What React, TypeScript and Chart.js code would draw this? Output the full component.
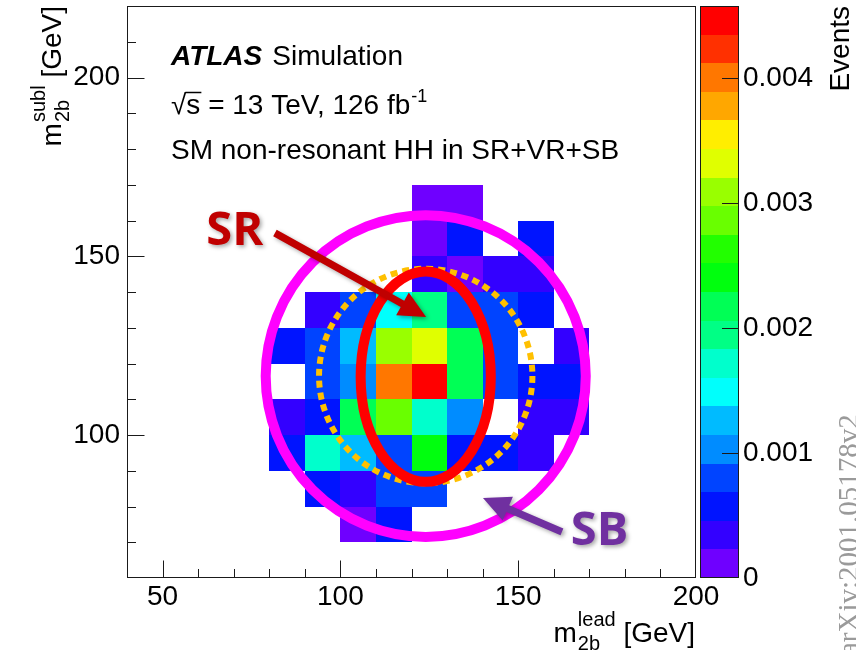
import React, { useEffect, useRef } from 'react';
import { Chart, registerables } from 'chart.js';

Chart.register(...registerables);

// ---------------- data ----------------
const X_RANGE = [40, 200];
const Y_RANGE = [60, 220];
const X_TICKS = [50, 100, 150, 200];
const Y_TICKS = [100, 150, 200];
const MINOR_STEP = 10;
const Z_RANGE = [0, 0.00458];
const Z_TICKS = [0, 0.001, 0.002, 0.003, 0.004];
const Z_CONTOURS = 20;
const BIN_WIDTH = 10;

// lower edges of the bins (GeV)
const X_BIN_LOW = [80, 90, 100, 110, 120, 130, 140, 150, 160];
const Y_BIN_LOW = [160, 150, 140, 130, 120, 110, 100, 90, 80, 70];

// events per bin, one array per m2b(subl) row, columns follow X_BIN_LOW
const ROW_160 = [0, 0, 0, 0, 0.0001, 0.0001, 0, 0, 0];
const ROW_150 = [0, 0, 0, 0, 0.0001, 0.0006, 0, 0.0006, 0];
const ROW_140 = [0, 0, 0, 0, 0.0004, 0.0002, 0.0004, 0.0004, 0];
const ROW_130 = [0, 0.0003, 0.0009, 0.0015, 0.002, 0.0009, 0.0008, 0.0006, 0];
const ROW_120 = [0.0006, 0.0009, 0.0013, 0.0031, 0.0033, 0.0022, 0.0009, 0, 0.0004];
const ROW_110 = [0, 0.0009, 0.001, 0.004, 0.0045, 0.0022, 0.0009, 0.0006, 0.0006];
const ROW_100 = [0.0004, 0.0006, 0.0022, 0.0029, 0.0017, 0.0011, 0, 0.0004, 0.0003];
const ROW_90 = [0.0005, 0.0017, 0.0013, 0.0009, 0.0024, 0.0006, 0.0005, 0.0004, 0];
const ROW_80 = [0, 0.0005, 0.0004, 0.0008, 0.0009, 0, 0, 0, 0];
const ROW_70 = [0, 0, 0.0002, 0.0005, 0, 0, 0, 0, 0];
const ROWS = [ROW_160, ROW_150, ROW_140, ROW_130, ROW_120, ROW_110, ROW_100, ROW_90, ROW_80, ROW_70];

// colour of each of the 20 contours, from 0 upwards
const PALETTE = [
  '#6f00ff', '#3300ff', '#0014ff', '#0044ff', '#008cff',
  '#00bbff', '#00fffc', '#00ffcc', '#00ff85', '#00ff55',
  '#00ff0e', '#22ff00', '#69ff00', '#99ff00', '#e0ff00',
  '#ffee00', '#ffa700', '#ff7700', '#ff3000', '#ff0000',
];

// region outlines (GeV)
const SB_REGION = { cx: 124, cy: 116.5, rx: 45, ry: 45 };
const VR_REGION = { cx: 124, cy: 116.5, rx: 30, ry: 30 };
const SR_REGION = { cx: 124, cy: 116.3, rx: 18.3, ry: 29.4 };
const SR_ARROW = { x0: 81.6, y0: 156.5, x1: 124.1, y1: 133.0 };
const SB_ARROW = { x0: 162.3, y0: 72.9, x1: 140.1, y1: 82.4 };
const SR_LABEL = { text: 'SR', x: 62.3, y: 153.1 };
const SB_LABEL = { text: 'SB', x: 164.8, y: 69.2 };

const HEADER_BOLD = 'ATLAS';
const HEADER_REST = 'Simulation';
const ENERGY_LINE = ' = 13 TeV, 126 fb';
const LUMI_EXP = '-1';
const SAMPLE_LINE = 'SM non-resonant HH in SR+VR+SB';
const X_TITLE = { main: 'm', sub: '2b', sup: 'lead', unit: ' [GeV]' };
const Y_TITLE = { main: 'm', sub: '2b', sup: 'subl', unit: ' [GeV]' };
const Z_TITLE = 'Events';
const WATERMARK = 'arXiv:2001.05178v2';

// ---------------- helpers ----------------
const FONT = '"Liberation Sans", Arial, Helvetica, sans-serif';

const POINTS = ROWS.flatMap((row, r) =>
  row.map((v, c) => ({ x: X_BIN_LOW[c] + BIN_WIDTH / 2, y: Y_BIN_LOW[r] + BIN_WIDTH / 2, v }))
);

function binColor(v: number) {
  const f = (v - Z_RANGE[0]) / (Z_RANGE[1] - Z_RANGE[0]);
  const idx = Math.min(Z_CONTOURS - 1, Math.max(0, Math.floor(f * Z_CONTOURS)));
  return PALETTE[idx];
}

function zeroPadding(s: any) {
  s.paddingLeft = 0;
  s.paddingRight = 0;
  s.paddingTop = 0;
  s.paddingBottom = 0;
}

function ellipsePath(ctx: CanvasRenderingContext2D, xs: any, ys: any, r: any) {
  const cx = xs.getPixelForValue(r.cx);
  const cy = ys.getPixelForValue(r.cy);
  const rx = Math.abs(xs.getPixelForValue(r.cx + r.rx) - cx);
  const ry = Math.abs(ys.getPixelForValue(r.cy + r.ry) - cy);
  ctx.beginPath();
  ctx.ellipse(cx, cy, rx, ry, 0, 0, Math.PI * 2);
}

function drawArrow(ctx: CanvasRenderingContext2D, xs: any, ys: any, a: any, color: string) {
  const x0 = xs.getPixelForValue(a.x0);
  const y0 = ys.getPixelForValue(a.y0);
  const x1 = xs.getPixelForValue(a.x1);
  const y1 = ys.getPixelForValue(a.y1);
  const dx = x1 - x0;
  const dy = y1 - y0;
  const len = Math.hypot(dx, dy);
  const ux = dx / len;
  const uy = dy / len;
  const nx = -uy;
  const ny = ux;
  const hl = 27;
  const hw = 13;
  const sw = 3.6;
  const bx = x1 - ux * hl;
  const by = y1 - uy * hl;
  ctx.fillStyle = color;
  ctx.beginPath();
  ctx.moveTo(x0 + nx * sw, y0 + ny * sw);
  ctx.lineTo(bx + nx * sw, by + ny * sw);
  ctx.lineTo(bx + nx * hw, by + ny * hw);
  ctx.lineTo(x1, y1);
  ctx.lineTo(bx - nx * hw, by - ny * hw);
  ctx.lineTo(bx - nx * sw, by - ny * sw);
  ctx.lineTo(x0 - nx * sw, y0 - ny * sw);
  ctx.closePath();
  ctx.fill();
}

// draws "m_{sub}^{sup} [GeV]" ending at x=0, baseline y=0 of current transform
function drawMassTitle(ctx: CanvasRenderingContext2D, t: any) {
  const big = `28px ${FONT}`;
  const small = `20px ${FONT}`;
  ctx.font = big;
  const wm = ctx.measureText(t.main).width;
  const wu = ctx.measureText(t.unit).width;
  ctx.font = small;
  const ws = Math.max(ctx.measureText(t.sub).width, ctx.measureText(t.sup).width);
  const total = wm + 1 + ws + wu;
  let x = -total;
  ctx.textAlign = 'left';
  ctx.textBaseline = 'alphabetic';
  ctx.font = big;
  ctx.fillText(t.main, x, 0);
  x += wm + 1;
  ctx.font = small;
  ctx.fillText(t.sup, x, -16);
  ctx.fillText(t.sub, x, 8);
  x += ws;
  ctx.font = big;
  ctx.fillText(t.unit, x, 0);
}

const hist2dPlugin = {
  id: 'hist2d',
  beforeDatasetsDraw(chart: any) {
    const { ctx } = chart;
    const xs = chart.scales.x;
    const ys = chart.scales.y;
    ctx.save();
    for (const p of chart.data.datasets[0].data as any[]) {
      if (!(p.v > 0)) continue;
      const xa = Math.round(xs.getPixelForValue(p.x - BIN_WIDTH / 2));
      const xb = Math.round(xs.getPixelForValue(p.x + BIN_WIDTH / 2));
      const ya = Math.round(ys.getPixelForValue(p.y + BIN_WIDTH / 2));
      const yb = Math.round(ys.getPixelForValue(p.y - BIN_WIDTH / 2));
      ctx.fillStyle = binColor(p.v);
      ctx.fillRect(xa, ya, xb - xa, yb - ya);
    }
    ctx.restore();
  },
};

const framePlugin = {
  id: 'rootFrame',
  afterDatasetsDraw(chart: any) {
    const { ctx, chartArea: a } = chart;
    const xs = chart.scales.x;
    const ys = chart.scales.y;
    const zs = chart.scales.z;
    const L = Math.round(a.left) + 0.5;
    const R = Math.round(a.right) - 0.5;
    const T = Math.round(a.top) + 0.5;
    const B = Math.round(a.bottom) - 0.5;
    ctx.save();
    ctx.strokeStyle = '#1a1a1a';
    ctx.lineWidth = 1;
    ctx.strokeRect(L, T, R - L, B - T);
    ctx.beginPath();
    for (let v = X_RANGE[0] + MINOR_STEP; v < X_RANGE[1]; v += MINOR_STEP) {
      const major = X_TICKS.includes(v);
      const p = Math.round(xs.getPixelForValue(v)) + 0.5;
      ctx.moveTo(p, B);
      ctx.lineTo(p, B - (major ? 17 : 8.5));
    }
    for (let v = Y_RANGE[0] + MINOR_STEP; v < Y_RANGE[1]; v += MINOR_STEP) {
      const major = Y_TICKS.includes(v);
      const p = Math.round(ys.getPixelForValue(v)) + 0.5;
      ctx.moveTo(L, p);
      ctx.lineTo(L + (major ? 17 : 8.5), p);
    }
    ctx.stroke();

    // colour bar
    const cbL = Math.round(a.right) + 4;
    const cbR = cbL + 39;
    const step = (Z_RANGE[1] - Z_RANGE[0]) / Z_CONTOURS;
    for (let i = 0; i < Z_CONTOURS; i++) {
      const yTop = Math.round(zs.getPixelForValue(Z_RANGE[0] + (i + 1) * step));
      const yBot = Math.round(zs.getPixelForValue(Z_RANGE[0] + i * step));
      ctx.fillStyle = PALETTE[i];
      ctx.fillRect(cbL, yTop, cbR - cbL, yBot - yTop);
    }
    ctx.strokeRect(cbL + 0.5, T, cbR - cbL - 1, B - T);
    ctx.beginPath();
    for (const v of Z_TICKS) {
      if (v <= Z_RANGE[0]) continue;
      const p = Math.round(zs.getPixelForValue(v)) + 0.5;
      ctx.moveTo(cbR - 0.5, p);
      ctx.lineTo(cbR - 17, p);
    }
    ctx.stroke();
    ctx.restore();
  },
};

const overlayPlugin = {
  id: 'overlays',
  afterDraw(chart: any) {
    const { ctx, chartArea: a } = chart;
    const xs = chart.scales.x;
    const ys = chart.scales.y;
    ctx.save();

    // VR dashed circle
    ellipsePath(ctx, xs, ys, VR_REGION);
    ctx.strokeStyle = '#ffc000';
    ctx.lineWidth = 6;
    ctx.setLineDash([7, 5]);
    ctx.stroke();
    ctx.setLineDash([]);

    // SB circle
    ellipsePath(ctx, xs, ys, SB_REGION);
    ctx.strokeStyle = '#ff00ff';
    ctx.lineWidth = 10;
    ctx.stroke();

    // SR ellipse
    ellipsePath(ctx, xs, ys, SR_REGION);
    ctx.strokeStyle = '#ff0000';
    ctx.lineWidth = 10;
    ctx.stroke();

    // arrows + labels with a soft shadow
    ctx.shadowColor = 'rgba(0,0,0,0.35)';
    ctx.shadowBlur = 4;
    ctx.shadowOffsetX = 2;
    ctx.shadowOffsetY = 2;
    drawArrow(ctx, xs, ys, SR_ARROW, '#c00000');
    drawArrow(ctx, xs, ys, SB_ARROW, '#7030a0');
    ctx.font = `bold 47px "Open Sans", "Liberation Sans", sans-serif`;
    ctx.textAlign = 'left';
    ctx.textBaseline = 'alphabetic';
    ctx.fillStyle = '#c00000';
    ctx.fillText(SR_LABEL.text, xs.getPixelForValue(SR_LABEL.x), ys.getPixelForValue(SR_LABEL.y));
    ctx.fillStyle = '#7030a0';
    ctx.fillText(SB_LABEL.text, xs.getPixelForValue(SB_LABEL.x), ys.getPixelForValue(SB_LABEL.y));
    ctx.shadowColor = 'transparent';
    ctx.shadowBlur = 0;
    ctx.shadowOffsetX = 0;
    ctx.shadowOffsetY = 0;

    // header text
    ctx.fillStyle = '#000';
    const hx = a.left + 44;
    ctx.font = `italic bold 28px ${FONT}`;
    ctx.fillText(HEADER_BOLD, hx, a.top + 59);
    const wb = ctx.measureText(HEADER_BOLD).width;
    ctx.font = `28px ${FONT}`;
    ctx.fillText(HEADER_REST, hx + wb + 10, a.top + 59);

    const y2 = a.top + 108;
    ctx.font = `28px ${FONT}`;
    ctx.fillText('\u221A', hx, y2);
    const wr = ctx.measureText('\u221A').width;
    ctx.fillText('s', hx + wr, y2);
    const wsx = ctx.measureText('s').width;
    ctx.strokeStyle = '#000';
    ctx.lineWidth = 1.5;
    ctx.beginPath();
    ctx.moveTo(hx + wr - 1, y2 - 21.5);
    ctx.lineTo(hx + wr + wsx + 1, y2 - 21.5);
    ctx.stroke();
    ctx.fillText(ENERGY_LINE, hx + wr + wsx, y2);
    const we = ctx.measureText(ENERGY_LINE).width;
    ctx.font = `18px ${FONT}`;
    ctx.fillText(LUMI_EXP, hx + wr + wsx + we + 1, y2 - 12);

    ctx.font = `28px ${FONT}`;
    ctx.fillText(SAMPLE_LINE, hx, a.top + 153);

    // axis titles
    ctx.save();
    ctx.translate(a.right - 1, a.bottom + 64);
    drawMassTitle(ctx, X_TITLE);
    ctx.restore();

    ctx.save();
    ctx.translate(a.left - 66, a.top);
    ctx.rotate(-Math.PI / 2);
    drawMassTitle(ctx, Y_TITLE);
    ctx.restore();

    ctx.save();
    ctx.translate(a.right + 153, a.top);
    ctx.rotate(-Math.PI / 2);
    ctx.font = `28px ${FONT}`;
    ctx.textAlign = 'right';
    ctx.fillStyle = '#000';
    ctx.fillText(Z_TITLE, 0, 0);
    ctx.restore();

    // faint arXiv stamp on the right edge
    ctx.save();
    ctx.translate(858, 655);
    ctx.rotate(-Math.PI / 2);
    ctx.font = `29px "Liberation Serif", "Times New Roman", serif`;
    ctx.fillStyle = '#9a9a9a';
    ctx.textAlign = 'left';
    ctx.fillText(WATERMARK, 0, 0);
    ctx.restore();

    ctx.restore();
  },
};

const tickFont = { family: FONT, size: 28, lineHeight: 1 };

export default function App() {
  const canvasRef = useRef<HTMLCanvasElement | null>(null);

  useEffect(() => {
    const canvas = canvasRef.current;
    if (!canvas) return;
    const chart = new Chart(canvas, {
      type: 'scatter',
      data: {
        datasets: [
          {
            label: 'SM non-resonant HH',
            data: POINTS as any,
            pointRadius: 0,
            pointHoverRadius: 0,
            showLine: false,
          },
        ],
      },
      options: {
        animation: false,
        responsive: false,
        devicePixelRatio: 1,
        events: [],
        layout: { padding: { top: 6, left: 0, right: 0, bottom: 0 } },
        plugins: {
          legend: { display: false },
          tooltip: { enabled: false },
          title: { display: false },
        },
        scales: {
          x: {
            type: 'linear',
            position: 'bottom',
            min: X_RANGE[0],
            max: X_RANGE[1],
            grid: { display: false, drawTicks: false },
            border: { display: false },
            ticks: {
              color: '#000',
              font: tickFont,
              padding: 5,
              maxRotation: 0,
              autoSkip: false,
              callback: (v: any) => String(v),
            },
            afterBuildTicks: (s: any) => {
              s.ticks = X_TICKS.map((value) => ({ value }));
            },
            afterFit: (s: any) => {
              s.height = 72;
              zeroPadding(s);
            },
          },
          y: {
            type: 'linear',
            position: 'left',
            min: Y_RANGE[0],
            max: Y_RANGE[1],
            grid: { display: false, drawTicks: false },
            border: { display: false },
            ticks: {
              color: '#000',
              font: tickFont,
              padding: 7,
              autoSkip: false,
              callback: (v: any) => String(v),
            },
            afterBuildTicks: (s: any) => {
              s.ticks = Y_TICKS.map((value) => ({ value }));
            },
            afterFit: (s: any) => {
              s.width = 127;
              zeroPadding(s);
            },
          },
          z: {
            type: 'linear',
            position: 'right',
            min: Z_RANGE[0],
            max: Z_RANGE[1],
            grid: { display: false, drawTicks: false },
            border: { display: false },
            ticks: {
              color: '#000',
              font: tickFont,
              padding: 47,
              autoSkip: false,
              callback: (v: any) => (v === 0 ? '0' : Number(v).toFixed(3)),
            },
            afterBuildTicks: (s: any) => {
              s.ticks = Z_TICKS.map((value) => ({ value }));
            },
            afterFit: (s: any) => {
              s.width = 160;
              zeroPadding(s);
            },
          },
        },
      } as any,
      plugins: [hist2dPlugin, framePlugin, overlayPlugin],
    });
    return () => chart.destroy();
  }, []);

  return (
    <div style={{ position: 'absolute', left: 0, top: 0, width: 856, height: 650, background: '#fff', overflow: 'hidden' }}>
      <canvas ref={canvasRef} width={856} height={650} style={{ display: 'block' }} />
    </div>
  );
}
